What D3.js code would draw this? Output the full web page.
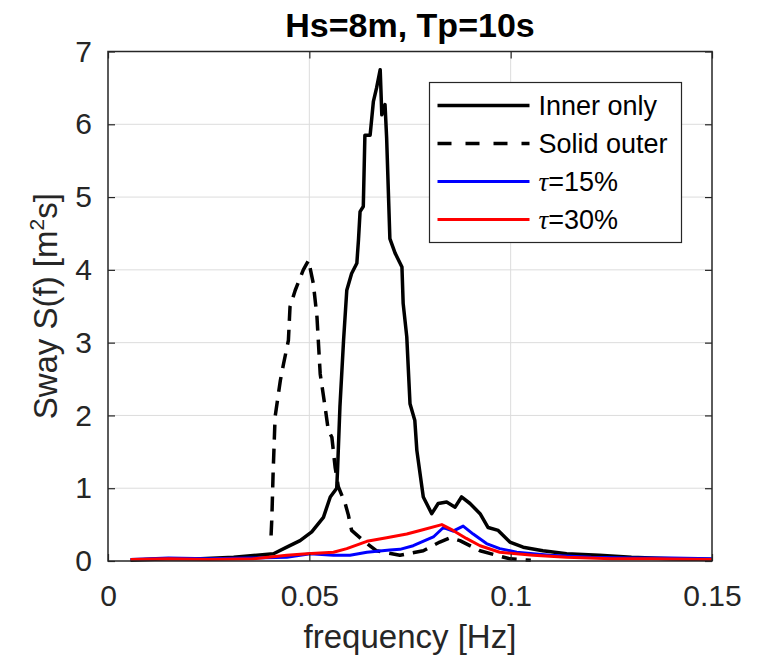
<!DOCTYPE html>
<html>
<head>
<meta charset="UTF-8">
<title>Hs=8m, Tp=10s</title>
<script src="https://d3js.org/d3.v7.min.js"></script>
<style>
html, body { margin: 0; padding: 0; background: #fff; }
svg { display: block; font-family: "Liberation Sans", Arial, sans-serif; }
.grid line { stroke: #dcdcdc; stroke-width: 1; }
</style>
</head>
<body>
<script>
// values: [frequency Hz, S(f)]
var innerOnly = [[0.0056,0.01],[0.0147,0.03],[0.023,0.03],[0.0312,0.05],[0.037,0.08],[0.0411,0.1],[0.0444,0.19],
  [0.0477,0.28],[0.0506,0.4],[0.0535,0.6],[0.0552,0.88],[0.0568,1.0],[0.057,1.24],[0.0576,2.12],[0.0585,3.03],
  [0.0593,3.72],[0.0605,3.95],[0.0618,4.09],[0.0622,4.41],[0.0626,4.8],[0.0634,4.87],[0.0638,5.85],[0.0651,5.85],
  [0.0659,6.31],[0.0667,6.5],[0.0676,6.75],[0.068,6.13],[0.0688,6.27],[0.0692,5.81],[0.0696,5.12],[0.07,4.43],
  [0.0713,4.23],[0.073,4.04],[0.0733,3.54],[0.0742,3.08],[0.0746,2.62],[0.075,2.16],[0.0762,1.93],[0.0767,1.52],
  [0.0775,1.2],[0.0783,0.88],[0.0804,0.65],[0.082,0.79],[0.0841,0.81],[0.0862,0.74],[0.0878,0.88],[0.0899,0.79],
  [0.0924,0.65],[0.0944,0.46],[0.0969,0.42],[0.0998,0.26],[0.1031,0.19],[0.108,0.14],[0.1139,0.1],[0.122,0.08],
  [0.13,0.05],[0.14,0.03],[0.1498,0.02]];

var solidOuter = [[0.0405,0.35],[0.0407,0.6],[0.041,1.2],[0.0415,1.98],[0.0428,2.48],[0.0436,2.71],[0.0448,3.03],
  [0.0452,3.49],[0.0465,3.72],[0.0485,4.0],[0.0498,4.13],[0.051,3.81],[0.0519,3.35],[0.0527,2.57],[0.0539,2.12],
  [0.0547,1.8],[0.0556,1.7],[0.0564,1.29],[0.0572,1.02],[0.0589,0.79],[0.0597,0.63],[0.0605,0.42],[0.0634,0.28],
  [0.0667,0.14],[0.0725,0.08],[0.0783,0.14],[0.0824,0.26],[0.085,0.32],[0.0874,0.28],[0.0924,0.14],[0.0998,0.03],
  [0.105,0.01]];

var tau15 = [[0.0056,0.02],[0.015,0.04],[0.025,0.03],[0.035,0.04],[0.0444,0.05],[0.0502,0.1],[0.056,0.08],
  [0.0601,0.08],[0.0643,0.12],[0.07,0.15],[0.0725,0.16],[0.0758,0.21],[0.0808,0.33],[0.0833,0.46],[0.0857,0.41],
  [0.0882,0.48],[0.0907,0.37],[0.094,0.24],[0.0973,0.17],[0.1015,0.12],[0.1097,0.08],[0.12,0.05],[0.13,0.04],
  [0.14,0.04],[0.15,0.03]];

var tau30 = [[0.0056,0.02],[0.015,0.03],[0.025,0.02],[0.036,0.03],[0.0444,0.08],[0.0494,0.1],[0.056,0.12],
  [0.0593,0.17],[0.0643,0.27],[0.0692,0.32],[0.0742,0.37],[0.0775,0.42],[0.0829,0.5],[0.0857,0.42],[0.089,0.31],
  [0.0924,0.21],[0.0973,0.12],[0.1056,0.08],[0.1139,0.05],[0.125,0.03],[0.135,0.03],[0.15,0.02]];

var xTicks = [0, 0.05, 0.1, 0.15];
var xTickLabels = ["0", "0.05", "0.1", "0.15"];
var yTicks = [0, 1, 2, 3, 4, 5, 6, 7];

var series = [
  {name: "Inner only", data: innerOnly, color: "#000", dash: null, width: 3.5},
  {name: "Solid outer", data: solidOuter, color: "#000", dash: "15,9", width: 3.5},
  {name: "15%", tau: true, data: tau15, color: "#0000ff", dash: null, width: 3},
  {name: "30%", tau: true, data: tau30, color: "#ff0000", dash: null, width: 3}
];

var W = 761, H = 660;
// plot box (note: "top" is reserved on window, so use prefixed names)
var pLeft = 108, pRight = 712, pTop = 51.5, pBottom = 561;

var svg = d3.select("body").append("svg")
    .attr("width", W)
    .attr("height", H);

var x = d3.scaleLinear().domain([0, 0.15]).range([pLeft, pRight]);
var y = d3.scaleLinear().domain([0, 7]).range([pBottom, pTop]);

// grid
var grid = svg.append("g").attr("class", "grid");
grid.selectAll("line.gx").data(xTicks.slice(1, -1)).enter().append("line")
    .attr("x1", d => x(d)).attr("x2", d => x(d))
    .attr("y1", pTop).attr("y2", pBottom);
grid.selectAll("line.gy").data(yTicks.slice(1, -1)).enter().append("line")
    .attr("y1", d => y(d)).attr("y2", d => y(d))
    .attr("x1", pLeft).attr("x2", pRight);

// curves
var line = d3.line().x(d => x(d[0])).y(d => y(d[1]));
svg.append("g").selectAll("path").data(series).enter().append("path")
    .attr("d", d => line(d.data))
    .attr("fill", "none")
    .attr("stroke", d => d.color)
    .attr("stroke-width", d => d.width)
    .attr("stroke-dasharray", d => d.dash)
    .attr("stroke-linejoin", "round");

// axes, ticks pointing in like matlab
var axisColor = "#262626";
var tickLen = 7;
var xAxis = d3.axisBottom(x).tickValues(xTicks).tickFormat((d, i) => xTickLabels[i])
    .tickSizeInner(-tickLen).tickSizeOuter(0).tickPadding(24);
var yAxis = d3.axisLeft(y).tickValues(yTicks).tickFormat(d3.format("d"))
    .tickSizeInner(-tickLen).tickSizeOuter(0).tickPadding(16);

var gx = svg.append("g").attr("transform", "translate(0," + pBottom + ")").call(xAxis);
var gy = svg.append("g").attr("transform", "translate(" + pLeft + ",0)").call(yAxis);
var gx2 = svg.append("g").attr("transform", "translate(0," + pTop + ")")
    .call(d3.axisTop(x).tickValues(xTicks).tickSizeInner(-tickLen).tickSizeOuter(0).tickFormat(""));
var gy2 = svg.append("g").attr("transform", "translate(" + pRight + ",0)")
    .call(d3.axisRight(y).tickValues(yTicks).tickSizeInner(-tickLen).tickSizeOuter(0).tickFormat(""));

[gx, gy, gx2, gy2].forEach(function(g) {
    g.select(".domain").remove();
    g.selectAll(".tick line").attr("stroke", axisColor).attr("stroke-width", 1.2);
    g.selectAll("text").attr("fill", axisColor).attr("font-size", 30)
        .attr("font-family", "Liberation Sans, Arial, sans-serif");
});

svg.append("rect")
    .attr("x", pLeft).attr("y", pTop)
    .attr("width", pRight - pLeft).attr("height", pBottom - pTop)
    .attr("fill", "none").attr("stroke", axisColor).attr("stroke-width", 1.5);

// title and labels
svg.append("text")
    .attr("x", (pLeft + pRight) / 2).attr("y", 37)
    .attr("text-anchor", "middle")
    .attr("font-size", 34).attr("font-weight", "bold")
    .attr("fill", "#000")
    .text("Hs=8m, Tp=10s");

svg.append("text")
    .attr("x", (pLeft + pRight) / 2).attr("y", 648)
    .attr("text-anchor", "middle")
    .attr("font-size", 33)
    .attr("fill", axisColor)
    .text("frequency [Hz]");

var yl = svg.append("text")
    .attr("transform", "translate(57," + (pTop + pBottom) / 2 + ") rotate(-90)")
    .attr("text-anchor", "middle")
    .attr("font-size", 33)
    .attr("fill", axisColor);
yl.append("tspan").text("Sway S(f) [m");
yl.append("tspan").attr("font-size", 21).attr("dy", -13).text("2");
yl.append("tspan").attr("dy", 13).text("s]");

// legend
var lg = svg.append("g").attr("transform", "translate(429.5,82.5)");
lg.append("rect")
    .attr("width", 252).attr("height", 160)
    .attr("fill", "#fff").attr("stroke", axisColor).attr("stroke-width", 1.2);

var rows = lg.selectAll("g.row").data(series).enter().append("g")
    .attr("transform", (d, i) => "translate(0," + (23 + i * 38) + ")");
rows.append("line")
    .attr("x1", 8).attr("x2", 100)
    .attr("stroke", d => d.color)
    .attr("stroke-width", d => d.width)
    .attr("stroke-dasharray", d => d.dash ? "14,14" : null);
var lt = rows.append("text")
    .attr("x", 109).attr("y", 9)
    .attr("font-size", 27)
    .attr("fill", "#000");
lt.filter(d => d.tau).append("tspan")
    .attr("font-family", "Liberation Serif, serif").attr("font-style", "italic")
    .text("\u03c4");
lt.append("tspan").text(d => d.tau ? "=" + d.name : d.name);
</script>
</body>
</html>
